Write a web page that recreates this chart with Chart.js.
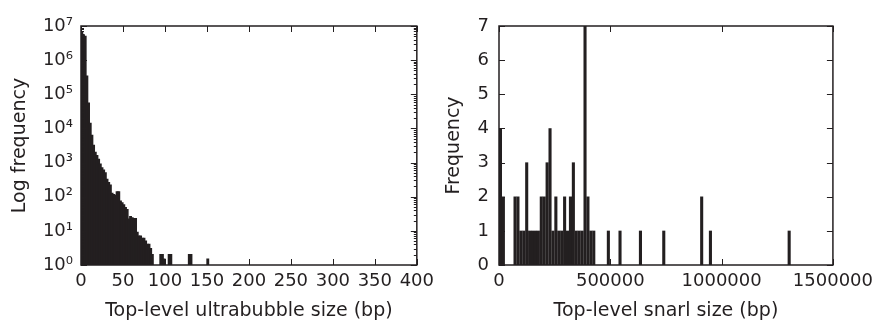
<!DOCTYPE html>
<html>
<head>
<meta charset="utf-8">
<script src="https://cdn.jsdelivr.net/npm/chart.js@4.4.0/dist/chart.umd.min.js"></script>
<style>
  html, body { margin: 0; padding: 0; background: #fff; overflow: hidden; }
  #wrap { position: relative; width: 879px; height: 322px; }
  canvas { position: absolute; top: 0; }
</style>
</head>
<body>
<div id="wrap">
  <canvas id="ubChart" width="440" height="322" style="left:0"></canvas>
  <canvas id="snarlChart" width="439" height="322" style="left:440px"></canvas>
</div>
<script>
// ============================== DATA ==============================
// ultrabubble histogram: 2 bp bins, bin start (bp) and count
const ubBinWidth = 2;
const ubBinStart = [0, 2, 4, 6, 8, 10, 12, 14, 16, 18, 20, 22, 24, 26, 28, 30, 32, 34, 36, 38,
    40, 42, 44, 46, 48, 50, 52, 54, 56, 58, 60, 62, 64, 66, 68, 70, 72, 74, 76, 78,
    80, 82, 84, 94, 96, 98, 104, 106, 128, 130, 150];
const ubCount = [6500000, 5500000, 5000000, 340000, 55000, 14000, 6300, 3200, 2000, 1600,
    1250, 900, 700, 600, 500, 320, 260, 220, 125, 115,
    110, 140, 140, 75, 66, 58, 48, 42, 22, 26, 24, 23, 23, 9, 7, 7, 6, 6, 5, 4,
    4, 3, 2, 2, 2, 1.5, 2, 2, 2, 2, 1.5];
const ubXTicks = [0, 50, 100, 150, 200, 250, 300, 350, 400];
const ubYExponents = [0, 1, 2, 3, 4, 5, 6, 7];

// snarl histogram: 13100 bp bins, bin start (bp) and count
const snarlBinWidth = 13100;
const snarlBinStart = [0, 13100, 65500, 78600, 91700, 104800, 117900, 131000, 144100, 157200,
    170300, 183400, 196500, 209600, 222700, 235800, 248900, 262000, 275100, 288200,
    301300, 314400, 327500, 340600, 353700, 366800, 379900, 393000, 406100, 419200,
    484700, 537100, 628800, 733600, 903900, 943200, 1296900];
const snarlCount = [4, 2, 2, 2, 1, 1, 3, 1, 1, 1,
    1, 2, 2, 3, 4, 1, 2, 1, 1, 2,
    1, 2, 3, 1, 1, 1, 7, 2, 1, 1,
    1, 1, 1, 1, 2, 1, 1];
const snarlXTicks = [0, 500000, 1000000, 1500000];
const snarlYTicks = [0, 1, 2, 3, 4, 5, 6, 7];

// ============================== STYLE ==============================
const INK = '#231f20';
const FAMILY = '"DejaVu Sans", sans-serif';
const tickFont = { family: FAMILY, size: 18 };
const titleFont = { family: FAMILY, size: 19 };
const SUP = ['\u2070', '\u00b9', '\u00b2', '\u00b3', '\u2074', '\u2075', '\u2076', '\u2077'];

// frame + inward ticks on all four sides (matplotlib classic look)
const frameTicks = {
    id: 'frameTicks',
    afterDatasetsDraw(chart) {
        const { ctx, chartArea: a, scales: { x, y } } = chart;
        ctx.save();
        ctx.strokeStyle = INK;
        ctx.lineWidth = 1;
        ctx.beginPath();
        x.ticks.forEach(t => {
            const px = Math.round(x.getPixelForValue(t.value)) + 0.5;
            ctx.moveTo(px, a.bottom); ctx.lineTo(px, a.bottom - 6);
            ctx.moveTo(px, a.top); ctx.lineTo(px, a.top + 6);
        });
        y.ticks.forEach(t => {
            const py = Math.round(y.getPixelForValue(t.value)) + 0.5;
            ctx.moveTo(a.left, py); ctx.lineTo(a.left + 6, py);
            ctx.moveTo(a.right, py); ctx.lineTo(a.right - 6, py);
        });
        if (y.type === 'logarithmic') {
            for (let e = 0; e < 7; e++) {
                for (let m = 2; m <= 9; m++) {
                    const py = Math.round(y.getPixelForValue(m * Math.pow(10, e))) + 0.5;
                    ctx.moveTo(a.left, py); ctx.lineTo(a.left + 3, py);
                    ctx.moveTo(a.right, py); ctx.lineTo(a.right - 3, py);
                }
            }
        }
        ctx.stroke();
        ctx.lineWidth = 1.5;
        ctx.strokeRect(a.left, a.top, a.right - a.left, a.bottom - a.top);
        ctx.restore();
    }
};

function toPoints(starts, counts, width) {
    return starts.map((s, i) => ({ x: s + width / 2, y: counts[i] }));
}

function baseScale(extra) {
    return Object.assign({
        grid: { display: false, drawTicks: false },
        border: { display: false }
    }, extra);
}

function createHistogram(id, points, xOpts, yOpts, pad, barPct, inflate) {
    const ctx = document.getElementById(id).getContext('2d');
    return new Chart(ctx, {
        type: 'bar',
        data: { datasets: [{ data: points, backgroundColor: INK, borderWidth: 0,
            barPercentage: barPct, categoryPercentage: 1, inflateAmount: inflate }] },
        options: {
            responsive: false,
            animation: false,
            layout: { padding: pad },
            plugins: { legend: { display: false }, tooltip: { enabled: false } },
            scales: { x: baseScale(xOpts), y: baseScale(yOpts) }
        },
        plugins: [frameTicks]
    });
}

// ============================== CHARTS ==============================
window.addEventListener('DOMContentLoaded', () => {
    createHistogram('ubChart', toPoints(ubBinStart, ubCount, ubBinWidth), {
        type: 'linear', min: 0, max: 400, offset: false,
        afterBuildTicks: s => { s.ticks = ubXTicks.map(v => ({ value: v })); },
        ticks: { autoSkip: false, maxRotation: 0, padding: 6, color: INK, font: tickFont },
        title: { display: true, text: 'Top-level ultrabubble size (bp)', color: INK, font: titleFont, padding: { top: 0, bottom: 0 } },
        afterFit: s => { s.height = 57; }
    }, {
        type: 'logarithmic', min: 1, max: 1e7,
        afterBuildTicks: s => { s.ticks = ubYExponents.map(e => ({ value: Math.pow(10, e) })); },
        ticks: { padding: 8, color: INK, font: tickFont,
            callback: v => '10' + SUP[Math.round(Math.log10(v))] },
        title: { display: true, text: 'Log frequency', color: INK, font: titleFont, padding: { top: 9, bottom: 0 } },
        afterFit: s => { s.width = 81; }
    }, { top: 26, right: 23, bottom: 0, left: 0 }, 1, 0.6);

    createHistogram('snarlChart', toPoints(snarlBinStart, snarlCount, snarlBinWidth), {
        type: 'linear', min: 0, max: 1500000, offset: false,
        afterBuildTicks: s => { s.ticks = snarlXTicks.map(v => ({ value: v })); },
        ticks: { autoSkip: false, maxRotation: 0, padding: 6, color: INK, font: tickFont,
            callback: v => String(v) },
        title: { display: true, text: 'Top-level snarl size (bp)', color: INK, font: titleFont, padding: { top: 0, bottom: 0 } },
        afterFit: s => { s.height = 57; }
    }, {
        type: 'linear', min: 0, max: 7,
        afterBuildTicks: s => { s.ticks = snarlYTicks.map(v => ({ value: v })); },
        ticks: { padding: 10, color: INK, font: tickFont },
        title: { display: true, text: 'Frequency', color: INK, font: titleFont, padding: { top: 3, bottom: 0 } },
        afterFit: s => { s.width = 59; }
    }, { top: 26, right: 45, bottom: 0, left: 0 }, 0.92, 0.2);
});
</script>
</body>
</html>
